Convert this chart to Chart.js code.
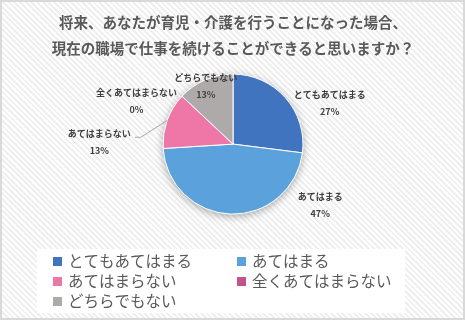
<!DOCTYPE html>
<html lang="ja">
<head>
  <meta charset="UTF-8" />
  <meta name="viewport" content="width=device-width, initial-scale=1.0"/>
  <title>育児・介護と仕事の継続</title>
  <script src="https://cdn.jsdelivr.net/npm/chart.js"></script>
  <style>
    body {
      margin: 0;
      background: #ffffff;
    }

    .frame {
      position: relative;
      width: 465px;
      height: 320px;
      background: repeating-linear-gradient(45deg, #ffffff 0 2px, #efefef 2px 4px);
      box-shadow: inset 0 0 0 2px #d9d9d9;
    }
  </style>
</head>
<body>
  <div class="frame">
    <canvas id="careChart"></canvas>
  </div>

  <script>
    const categories = ['とてもあてはまる', 'あてはまる', 'あてはまらない', '全くあてはまらない', 'どちらでもない'];
    const shares = [27, 47, 13, 0, 13];
    const sliceColors = ['#4174BE', '#5BA1DB', '#EE77A8', '#C4528B', '#AEAAAA'];
    const titleLines = [
      '将来、あなたが育児・介護を行うことになった場合、',
      '現在の職場で仕事を続けることができると思いますか？'
    ];

    // label placement: degrees clockwise from 12 o'clock, distance in radii
    const labelSpots = [[67, 1.5], [125, 1.52], [271, 1.91], [294, 1.51], [335, 0.92]];
    const leaderIndex = 2;

    const jpFont = '"Noto Sans CJK JP", "Noto Sans", sans-serif';

    // soft shadow under the whole pie, drawn once so slices don't shade each other
    const pieShadow = {
      id: 'pieShadow',
      beforeDatasetsDraw(chart) {
        const arc = chart.getDatasetMeta(0).data[0];
        if (!arc) return;
        const ctx = chart.ctx;
        ctx.save();
        ctx.shadowColor = 'rgba(0, 0, 0, 0.35)';
        ctx.shadowBlur = 9;
        ctx.shadowOffsetY = 2;
        ctx.fillStyle = '#ffffff';
        ctx.beginPath();
        ctx.arc(arc.x, arc.y, arc.outerRadius, 0, Math.PI * 2);
        ctx.fill();
        ctx.restore();
      }
    };

    const sliceLabels = {
      id: 'sliceLabels',
      afterDatasetsDraw(chart) {
        const ctx = chart.ctx;
        const arcs = chart.getDatasetMeta(0).data;
        ctx.save();
        ctx.font = 'bold 9px ' + jpFont;
        ctx.textAlign = 'center';
        ctx.textBaseline = 'middle';
        arcs.forEach((arc, i) => {
          const [deg, dist] = labelSpots[i];
          const a = (deg - 90) * Math.PI / 180;
          const x = arc.x + Math.cos(a) * arc.outerRadius * dist;
          const y = arc.y + Math.sin(a) * arc.outerRadius * dist;
          ctx.fillStyle = '#404040';
          ctx.fillText(categories[i], x, y - 8.5);
          ctx.fillText(shares[i] + '%', x, y + 8.5);

          if (i === leaderIndex) {
            const w = ctx.measureText(categories[i]).width;
            const mid = (arc.startAngle + arc.endAngle) / 2;
            const sx = x + w / 2 + 4;
            const sy = y - 4.5;
            ctx.strokeStyle = '#a6a6a6';
            ctx.lineWidth = 1;
            ctx.beginPath();
            ctx.moveTo(sx, sy);
            ctx.lineTo(sx + 6, sy);
            ctx.lineTo(arc.x + Math.cos(mid) * arc.outerRadius, arc.y + Math.sin(mid) * arc.outerRadius);
            ctx.stroke();
          }
        });
        ctx.restore();
      }
    };

    // two-column legend in a white box under the pie
    const gridLegend = {
      id: 'gridLegend',
      afterDraw(chart) {
        const ctx = chart.ctx;
        ctx.save();
        ctx.fillStyle = '#ffffff';
        ctx.fillRect(37, 249, 368, 64);
        ctx.font = '15.5px ' + jpFont;
        ctx.textAlign = 'left';
        ctx.textBaseline = 'middle';
        categories.forEach((name, i) => {
          const col = i % 2;
          const row = Math.floor(i / 2);
          const bx = 53 + col * 184;
          const cy = 261.5 + row * 20;
          ctx.fillStyle = sliceColors[i];
          ctx.fillRect(bx, cy - 4.5, 9, 9);
          ctx.fillStyle = '#595959';
          ctx.fillText(name, bx + 15, cy);
        });
        ctx.restore();
      }
    };

    new Chart(document.getElementById('careChart'), {
      type: 'pie',
      data: {
        labels: categories,
        datasets: [{
          data: shares,
          backgroundColor: sliceColors,
          borderColor: '#ffffff',
          borderWidth: 1,
          radius: 70
        }]
      },
      options: {
        responsive: true,
        maintainAspectRatio: false,
        animation: false,
        layout: {
          padding: { left: 1, right: 0, top: 0, bottom: 93 }
        },
        plugins: {
          legend: { display: false },
          tooltip: { enabled: false },
          title: {
            display: true,
            text: titleLines,
            color: '#595959',
            font: { family: jpFont, size: 14.5, weight: 'bold', lineHeight: 1.8 },
            padding: { top: 9, bottom: 0 }
          }
        }
      },
      plugins: [pieShadow, sliceLabels, gridLegend]
    });
  </script>
</body>
</html>
